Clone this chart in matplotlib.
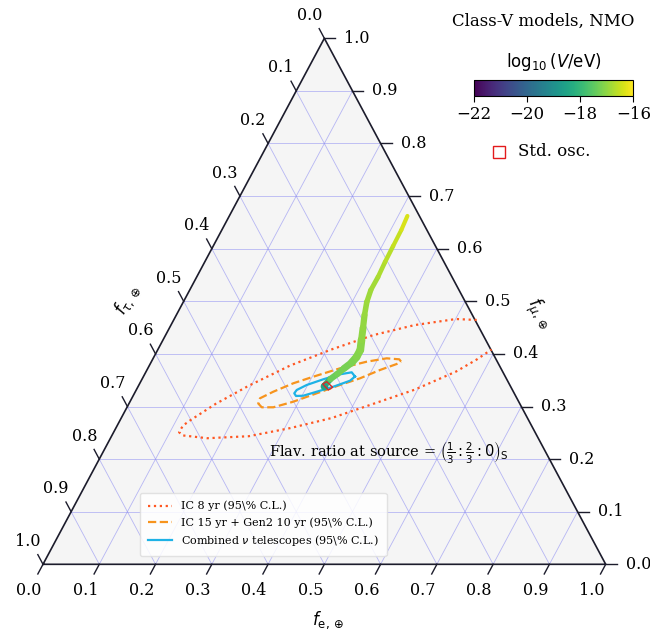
import numpy as np
import matplotlib
matplotlib.use('Agg')
import matplotlib.pyplot as plt
import matplotlib as mpl
from matplotlib.collections import LineCollection
from matplotlib.lines import Line2D
from matplotlib.patches import Polygon

plt.rcParams['font.family'] = ['DejaVu Serif']
plt.rcParams['mathtext.fontset'] = 'dejavusans'

# ---------------- data (flavour fractions f_e, f_mu) ----------------
tick_values = [0.0, 0.1, 0.2, 0.3, 0.4, 0.5, 0.6, 0.7, 0.8, 0.9, 1.0]
tick_labels = ["0.0", "0.1", "0.2", "0.3", "0.4", "0.5", "0.6", "0.7", "0.8", "0.9", "1.0"]

ic8_fe = [0.5385, 0.5008, 0.4330, 0.3688, 0.3088, 0.2503, 0.1959, 0.1542, 0.1253,
          0.1169, 0.1163, 0.1252, 0.1721, 0.2439, 0.3098, 0.3740, 0.4341, 0.4944,
          0.5508, 0.5762, 0.5929]
ic8_fmu = [0.4645, 0.4663, 0.4548, 0.4356, 0.4086, 0.3779, 0.3395, 0.3049, 0.2743,
           0.2639, 0.2511, 0.2451, 0.2397, 0.2435, 0.2589, 0.2781, 0.3049, 0.3319,
           0.3664, 0.3894, 0.4084]

gen2_fe = [0.4434, 0.4383, 0.4150, 0.3827, 0.3415, 0.3021, 0.2727, 0.2452, 0.2278,
           0.2297, 0.2395, 0.2601, 0.2902, 0.3238, 0.3574, 0.3866, 0.4142, 0.4382, 0.4434]
gen2_fmu = [0.3856, 0.3897, 0.3916, 0.3852, 0.3726, 0.3567, 0.3441, 0.3281, 0.3156,
            0.3057, 0.2985, 0.2985, 0.3091, 0.3251, 0.3409, 0.3536, 0.3694, 0.3808, 0.3856]

comb_fe = [0.3760, 0.3661, 0.3472, 0.3222, 0.2982, 0.2852, 0.2840, 0.2896, 0.3023,
           0.3223, 0.3471, 0.3711, 0.3760]
comb_fmu = [0.3570, 0.3650, 0.3612, 0.3517, 0.3409, 0.3314, 0.3251, 0.3200, 0.3205,
            0.3281, 0.3376, 0.3490, 0.3570]

stdosc_fe = [0.3257, 0.3306, 0.3465, 0.3413]
stdosc_fmu = [0.3428, 0.3471, 0.3365, 0.3314]

# Class-V model curve, positions as (f_e, f_mu)
curve_fe = [0.3301, 0.3346, 0.3422, 0.3487, 0.3569, 0.3602, 0.3602, 0.3528, 0.3441,
            0.3344, 0.3261, 0.3219, 0.3223, 0.3205, 0.3197, 0.3190, 0.3165]
curve_fmu = [0.3390, 0.3523, 0.3618, 0.3723, 0.3837, 0.3942, 0.4075, 0.4265, 0.4493,
             0.4740, 0.4987, 0.5215, 0.5462, 0.5747, 0.6051, 0.6356, 0.6622]
curve_logV = [-18.5, -17.4, -17.3, -17.25, -17.2, -17.15, -17.1, -17.05, -17.0,
              -16.95, -16.9, -16.85, -16.8, -16.7, -16.6, -16.45, -16.3]
curve_width = [4.5, 4.5, 4.5, 5.0, 5.5, 5.5, 5.5, 5.0, 4.5, 4.0, 3.8, 3.5, 3.3, 3.2, 3.0, 3.0, 3.0]

cbar_ticks = [-22, -20, -18, -16]


def T(fe, fmu):
    fe = np.asarray(fe, dtype=float)
    fmu = np.asarray(fmu, dtype=float)
    return fe + fmu / 2.0, fmu


W, H = 650, 633
fig = plt.figure(figsize=(6.5, 6.33), dpi=100)
x0, y0, wpx, hpx = 43.0, 564.3, 562.7, 526.0
ax = fig.add_axes([x0 / W, (H - y0) / H, wpx / W, hpx / H])
ax.set_xlim(0, 1)
ax.set_ylim(0, 1)
ax.axis('off')

# triangle background
tri = Polygon([[0, 0], [1, 0], [0.5, 1]], closed=True, facecolor='#f5f5f5',
              edgecolor='none', zorder=0)
ax.add_patch(tri)

# grid lines
gcol = (0.55, 0.55, 0.95, 0.6)
for c in tick_values[1:-1]:
    xs, ys = T([c, c], [0, 1 - c])
    ax.plot(xs, ys, color=gcol, lw=0.6, zorder=1)
    xs, ys = T([0, 1 - c], [c, c])
    ax.plot(xs, ys, color=gcol, lw=0.6, zorder=1)
    xs, ys = T([1 - c, 0], [0, 1 - c])
    ax.plot(xs, ys, color=gcol, lw=0.6, zorder=1)

# triangle border
ax.plot([0, 1, 0.5, 0], [0, 0, 1, 0], color='#1c1c2c', lw=1.2, zorder=5,
        clip_on=False)

# ticks and tick labels
tk = 0.0184
tfs = 11.5
for v, lab in zip(tick_values, tick_labels):
    # bottom axis: f_e
    px, py = T(v, 0)
    ax.plot([px, px - 0.5 * tk], [py, py - tk], color='#1c1c2c', lw=1.0, clip_on=False)
    ax.annotate(lab, (px, py), xytext=(-14, -26), textcoords='offset pixels',
                ha='center', va='center', fontsize=tfs, annotation_clip=False)
    # right axis: f_mu
    px, py = T(1 - v, v)
    ax.plot([px, px + 11 / wpx], [py, py], color='#1c1c2c', lw=1.0, clip_on=False)
    ax.annotate(lab, (px, py), xytext=(20, 0), textcoords='offset pixels',
                ha='left', va='center', fontsize=tfs, annotation_clip=False)
    # left axis: f_tau
    px, py = T(0, 1 - v)
    ax.plot([px, px - 0.5 * tk], [py, py + tk], color='#1c1c2c', lw=1.0, clip_on=False)
    ax.annotate(lab, (px, py), xytext=(-15, 23), textcoords='offset pixels',
                ha='center', va='center', fontsize=tfs, annotation_clip=False)

# contours
xs, ys = T(ic8_fe, ic8_fmu)
ax.plot(xs, ys, ls=':', color='#ff5722', lw=1.6, zorder=6,
        label=r'IC 8 yr (95\% C.L.)')
xs, ys = T(gen2_fe, gen2_fmu)
ax.plot(xs, ys, ls='--', color='#f7941d', lw=1.6, zorder=6,
        label=r'IC 15 yr + Gen2 10 yr (95\% C.L.)')
xs, ys = T(comb_fe, comb_fmu)
ax.plot(xs, ys, ls='-', color='#1eb2e6', lw=1.6, zorder=6,
        label=r'Combined $\nu$ telescopes (95\% C.L.)')

# model curve coloured by log10 V
cmap = plt.get_cmap('viridis')
norm = mpl.colors.Normalize(vmin=-22, vmax=-16)
cx, cy = T(curve_fe, curve_fmu)
pts = np.column_stack([cx, cy]).reshape(-1, 1, 2)
segs = np.concatenate([pts[:-1], pts[1:]], axis=1)
vals = np.asarray(curve_logV)
segv = 0.5 * (vals[:-1] + vals[1:])
lc = LineCollection(segs, cmap=cmap, norm=norm, linewidths=curve_width[:-1],
                    capstyle='round', joinstyle='round', zorder=7)
lc.set_array(segv)
ax.add_collection(lc)
ax.scatter(cx[:1], cy[:1], c=vals[:1], cmap=cmap, norm=norm, s=20, zorder=8)

# standard oscillation region
sx, sy = T(stdosc_fe, stdosc_fmu)
ax.add_patch(Polygon(np.column_stack([sx, sy]), closed=True, facecolor='none',
                     edgecolor='#d62728', lw=1.0, zorder=9))

# legend
leg = ax.legend(loc='lower left', bbox_to_anchor=(0.172, 0.016), borderaxespad=0,
                fontsize=8, framealpha=0.85, handlelength=2.2, labelspacing=0.5,
                borderpad=0.7)
leg.get_frame().set_edgecolor('#dddddd')

# text annotations
ax.text((269 - x0) / wpx, (y0 - 453) / hpx,
        r'Flav. ratio at source = $\left(\frac{1}{3}:\frac{2}{3}:0\right)_{\rm S}$',
        fontsize=10.5, ha='left', va='center', zorder=10)

fig.text(328 / W, 1 - 620 / H, r'$f_{\rm e,\oplus}$', fontsize=12, ha='center', va='center')
fig.text(128 / W, 1 - 300 / H, r'$f_{\tau,\oplus}$', fontsize=12, ha='center', va='center',
         rotation=60)
fig.text(539 / W, 1 - 314 / H, r'$f_{\mu,\oplus}$', fontsize=12, ha='center', va='center',
         rotation=-60)

fig.text(543 / W, 1 - 21 / H, 'Class-V models, NMO', fontsize=12, ha='center', va='center')

# colorbar
cax = fig.add_axes([474 / W, (H - 96) / H, (633.3 - 474) / W, 16 / H])
sm = mpl.cm.ScalarMappable(norm=norm, cmap=cmap)
cb = fig.colorbar(sm, cax=cax, orientation='horizontal', ticks=cbar_ticks)
cb.ax.tick_params(labelsize=12, length=4, width=0.8)
cb.outline.set_linewidth(0.8)
fig.text(554 / W, 1 - 62 / H, r'$\log_{10}(V/\mathrm{eV})$', fontsize=12,
         ha='center', va='center')

# standard oscillation legend entry
fig.add_artist(Line2D([499 / W], [1 - 152 / H], transform=fig.transFigure, marker='s',
                      ms=8, mfc='none', mec='#e31a1c', mew=1.0, ls='none'))
fig.text(518 / W, 1 - 152 / H, 'Std. osc.', fontsize=12, ha='left', va='center')

fig.savefig('out.png', dpi=100)
